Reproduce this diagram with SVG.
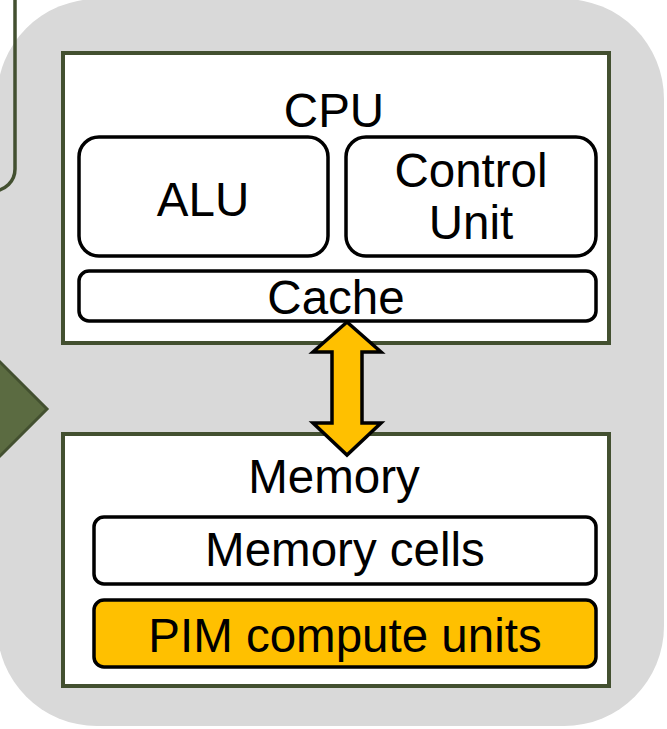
<svg xmlns="http://www.w3.org/2000/svg" width="667" height="729" viewBox="0 0 667 729">
<style>
.t{font-family:"Liberation Sans",Arial,sans-serif;font-size:47.5px;fill:#000;text-anchor:middle}
.outer{fill:#fff;stroke:#435030;stroke-width:4}
.inner{fill:#fff;stroke:#000;stroke-width:3.5}
</style>
<rect width="667" height="729" fill="#fff"/>
<rect id="bg" x="-3" y="-1" width="667" height="727" rx="100" ry="100" fill="#d9d9d9"/>
<g id="prev-box"><rect x="-40" y="-40" width="55" height="231" rx="22" fill="none" stroke="#435030" stroke-width="3.5"/></g>
<g id="pointer"><polygon points="-2,360 47,409 -2,458" fill="#5b6b41" stroke="#435030" stroke-width="3"/></g>
<g id="cpu">
<rect class="outer" x="63" y="53" width="546" height="290"/>
<text class="t" x="334" y="127">CPU</text>
</g>
<g id="alu"><rect class="inner" x="79" y="137" width="249" height="119" rx="20"/><text class="t" x="203" y="216">ALU</text></g>
<g id="control"><rect class="inner" x="346" y="137" width="250" height="119" rx="20"/><text class="t" x="471" y="187">Control</text><text class="t" x="471" y="239">Unit</text></g>
<g id="cache"><rect class="inner" x="79" y="271" width="517" height="50" rx="10"/><text class="t" x="336" y="314">Cache</text></g>
<g id="memory">
<rect class="outer" x="63" y="434" width="546" height="252"/>
<text class="t" x="334" y="493">Memory</text>
</g>
<g id="cells"><rect class="inner" x="94" y="517" width="502" height="67" rx="10"/><text class="t" x="345" y="566">Memory cells</text></g>
<g id="pim"><rect class="inner" x="94" y="600" width="502" height="67" rx="10" style="fill:#ffc000"/><text class="t" x="345" y="652">PIM compute units</text></g>
<g id="connectors">
<polygon points="347,322 381,352 362,352 362,423 381,423 347,455 313,423 332,423 332,352 313,352" fill="#ffc000" stroke="#000" stroke-width="3.5" stroke-linejoin="miter"/>
</g>
</svg>
